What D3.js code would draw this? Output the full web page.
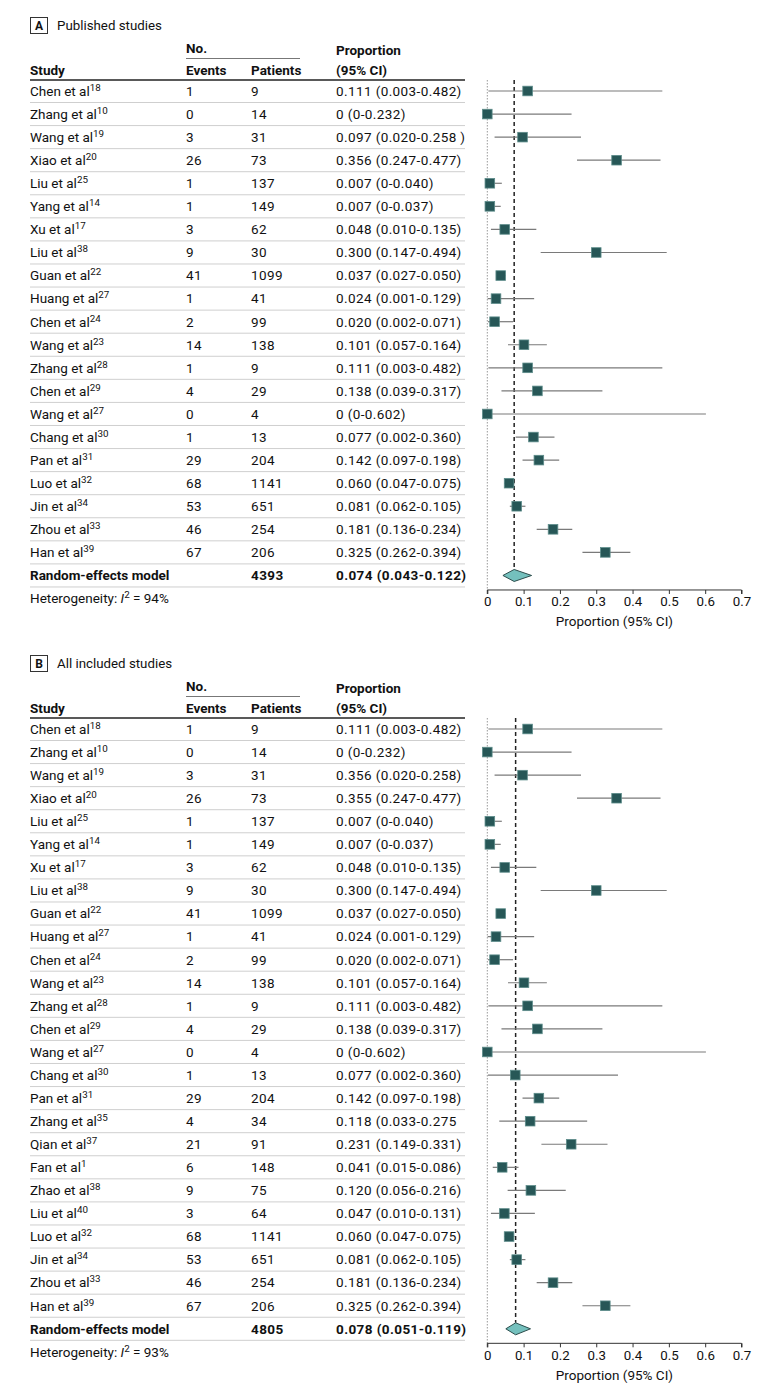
<!DOCTYPE html>
<html><head><meta charset="utf-8">
<script src="https://cdn.jsdelivr.net/npm/d3@7"></script>
<style>
body{margin:0;background:#fff;}
svg{display:block;font-family:Roboto,"Noto Sans",sans-serif;}
</style></head>
<body><svg id="c" width="780" height="1394"></svg>
<script>
// ---------- Panel A data ----------
const studiesA = ["Chen et al","Zhang et al","Wang et al","Xiao et al","Liu et al","Yang et al","Xu et al","Liu et al","Guan et al","Huang et al","Chen et al","Wang et al","Zhang et al","Chen et al","Wang et al","Chang et al","Pan et al","Luo et al","Jin et al","Zhou et al","Han et al"];
const refsA = ["18","10","19","20","25","14","17","38","22","27","24","23","28","29","27","30","31","32","34","33","39"];
const eventsA = ["1","0","3","26","1","1","3","9","41","1","2","14","1","4","0","1","29","68","53","46","67"];
const patientsA = ["9","14","31","73","137","149","62","30","1099","41","99","138","9","29","4","13","204","1141","651","254","206"];
const propTextA = ["0.111 (0.003-0.482)","0 (0-0.232)","0.097 (0.020-0.258 )","0.356 (0.247-0.477)","0.007 (0-0.040)","0.007 (0-0.037)","0.048 (0.010-0.135)","0.300 (0.147-0.494)","0.037 (0.027-0.050)","0.024 (0.001-0.129)","0.020 (0.002-0.071)","0.101 (0.057-0.164)","0.111 (0.003-0.482)","0.138 (0.039-0.317)","0 (0-0.602)","0.077 (0.002-0.360)","0.142 (0.097-0.198)","0.060 (0.047-0.075)","0.081 (0.062-0.105)","0.181 (0.136-0.234)","0.325 (0.262-0.394)"];
const estA = [0.111,0,0.097,0.356,0.007,0.007,0.048,0.300,0.037,0.024,0.020,0.101,0.111,0.138,0,0.127,0.142,0.060,0.081,0.181,0.325];
const loA  = [0.003,0,0.020,0.247,0,0,0.010,0.147,0.027,0.001,0.002,0.057,0.003,0.039,0,0.078,0.097,0.047,0.062,0.136,0.262];
const hiA  = [0.482,0.232,0.258,0.477,0.040,0.037,0.135,0.494,0.050,0.129,0.071,0.164,0.482,0.317,0.602,0.185,0.198,0.075,0.105,0.234,0.394];
const pooledA = {patients:"4393", text:"0.074 (0.043-0.122)", est:0.074, lo:0.043, hi:0.122, i2:"94%"};

// ---------- Panel B data ----------
const studiesB = ["Chen et al","Zhang et al","Wang et al","Xiao et al","Liu et al","Yang et al","Xu et al","Liu et al","Guan et al","Huang et al","Chen et al","Wang et al","Zhang et al","Chen et al","Wang et al","Chang et al","Pan et al","Zhang et al","Qian et al","Fan et al","Zhao et al","Liu et al","Luo et al","Jin et al","Zhou et al","Han et al"];
const refsB = ["18","10","19","20","25","14","17","38","22","27","24","23","28","29","27","30","31","35","37","1","38","40","32","34","33","39"];
const eventsB = ["1","0","3","26","1","1","3","9","41","1","2","14","1","4","0","1","29","4","21","6","9","3","68","53","46","67"];
const patientsB = ["9","14","31","73","137","149","62","30","1099","41","99","138","9","29","4","13","204","34","91","148","75","64","1141","651","254","206"];
const propTextB = ["0.111 (0.003-0.482)","0 (0-0.232)","0.356 (0.020-0.258)","0.355 (0.247-0.477)","0.007 (0-0.040)","0.007 (0-0.037)","0.048 (0.010-0.135)","0.300 (0.147-0.494)","0.037 (0.027-0.050)","0.024 (0.001-0.129)","0.020 (0.002-0.071)","0.101 (0.057-0.164)","0.111 (0.003-0.482)","0.138 (0.039-0.317)","0 (0-0.602)","0.077 (0.002-0.360)","0.142 (0.097-0.198)","0.118 (0.033-0.275","0.231 (0.149-0.331)","0.041 (0.015-0.086)","0.120 (0.056-0.216)","0.047 (0.010-0.131)","0.060 (0.047-0.075)","0.081 (0.062-0.105)","0.181 (0.136-0.234)","0.325 (0.262-0.394)"];
const estB = [0.111,0,0.097,0.356,0.007,0.007,0.048,0.300,0.037,0.024,0.020,0.101,0.111,0.138,0,0.077,0.142,0.118,0.231,0.041,0.120,0.047,0.060,0.081,0.181,0.325];
const loB  = [0.003,0,0.020,0.247,0,0,0.010,0.147,0.027,0.001,0.002,0.057,0.003,0.039,0,0.002,0.097,0.033,0.149,0.015,0.056,0.010,0.047,0.062,0.136,0.262];
const hiB  = [0.482,0.232,0.258,0.477,0.040,0.037,0.135,0.494,0.050,0.129,0.071,0.164,0.482,0.317,0.602,0.360,0.198,0.275,0.331,0.086,0.216,0.131,0.075,0.105,0.234,0.394];
const pooledB = {patients:"4805", text:"0.078 (0.051-0.119)", est:0.078, lo:0.051, hi:0.119, i2:"93%"};

const xTicks = [0,0.1,0.2,0.3,0.4,0.5,0.6,0.7];

const svg = d3.select("#c");
const x = d3.scaleLinear().domain([0,0.7]).range([487.3,741.5]);
const FS = 13.5;
const NUMLS = 0.4;
const colStudy = 30, colEvents = 186, colPatients = 251, colProp = 336, tableRight = 465;
const ROW = 23.07;

function drawPanel(oy, letter, title, studies, refs, events, patients, props, est, lo, hi, pooled){
  const g = svg.append("g").attr("transform", `translate(0,${oy})`);
  const n = studies.length;
  const y = d3.scaleLinear().domain([0, n]).range([91, 91 + n*ROW]);

  // Title box
  g.append("rect").attr("x",30.5).attr("y",17.5).attr("width",17).attr("height",16)
    .attr("fill","none").attr("stroke","#333").attr("stroke-width",1);
  g.append("text").attr("x",39).attr("y",30).attr("text-anchor","middle")
    .attr("font-size",12).attr("font-weight","bold").attr("fill","#111").text(letter);
  g.append("text").attr("x",57).attr("y",30).attr("font-size",13.3).attr("fill","#111").text(title);

  // Header
  const hdr = g.append("g").attr("font-size",FS).attr("font-weight","bold").attr("fill","#111");
  hdr.append("text").attr("x",colEvents).attr("y",52.5).text("No.");
  g.append("line").attr("x1",colEvents).attr("x2",300).attr("y1",58.5).attr("y2",58.5)
    .attr("stroke","#777").attr("stroke-width",1);
  hdr.append("text").attr("x",colStudy).attr("y",74.5).text("Study");
  hdr.append("text").attr("x",colEvents).attr("y",74.5).text("Events");
  hdr.append("text").attr("x",colPatients).attr("y",74.5).text("Patients");
  hdr.append("text").attr("x",colProp).attr("y",54.5).text("Proportion");
  hdr.append("text").attr("x",colProp).attr("y",74.5).text("(95% CI)");
  g.append("line").attr("x1",colStudy).attr("x2",tableRight).attr("y1",80).attr("y2",80)
    .attr("stroke","#222").attr("stroke-width",1.6);

  // Row separators
  g.selectAll("line.sep").data(d3.range(n+1)).join("line").attr("class","sep")
    .attr("x1",colStudy).attr("x2",tableRight)
    .attr("y1",i=>y(i)+11.5).attr("y2",i=>y(i)+11.5)
    .attr("stroke","#cfcfcf").attr("stroke-width",1);

  // Rows text
  const rows = g.selectAll("g.row").data(d3.range(n)).join("g").attr("class","row")
    .attr("font-size",FS).attr("fill","#111");
  const st = rows.append("text").attr("x",colStudy).attr("y",i=>y(i)+4.8);
  st.append("tspan").text(i=>studies[i]);
  st.append("tspan").attr("font-size",9.8).attr("dy",-5).text(i=>refs[i]);
  rows.append("text").attr("x",colEvents).attr("y",i=>y(i)+4.8).attr("letter-spacing",NUMLS).text(i=>events[i]);
  rows.append("text").attr("x",colPatients).attr("y",i=>y(i)+4.8).attr("letter-spacing",NUMLS).text(i=>patients[i]);
  rows.append("text").attr("x",colProp).attr("y",i=>y(i)+4.8).attr("letter-spacing",NUMLS).text(i=>props[i]);

  // Pooled row
  const py = y(n);
  const pr = g.append("g").attr("font-size",FS).attr("font-weight","bold").attr("fill","#111");
  pr.append("text").attr("x",colStudy).attr("y",py+4.8).text("Random-effects model");
  pr.append("text").attr("x",colPatients).attr("y",py+4.8).attr("letter-spacing",NUMLS).text(pooled.patients);
  pr.append("text").attr("x",colProp).attr("y",py+4.8).attr("letter-spacing",NUMLS).text(pooled.text);

  // Heterogeneity
  const ht = g.append("text").attr("x",colStudy).attr("y",y(n+1)+4.8).attr("font-size",FS).attr("fill","#111");
  ht.append("tspan").text("Heterogeneity: ");
  ht.append("tspan").attr("font-style","italic").text("I");
  ht.append("tspan").attr("font-size",9.8).attr("dy",-5).text("2");
  ht.append("tspan").attr("dy",5).text(" = " + pooled.i2);

  // Plot
  const axisY = py + 14.5;
  g.append("line").attr("x1",x(0)).attr("x2",x(0)).attr("y1",80).attr("y2",axisY)
    .attr("stroke","#999").attr("stroke-width",1).attr("stroke-dasharray","1.5,1.5");
  g.append("line").attr("x1",x(pooled.est)).attr("x2",x(pooled.est)).attr("y1",80).attr("y2",py-6)
    .attr("stroke","#222").attr("stroke-width",1.5).attr("stroke-dasharray","4,3");

  // CI lines
  g.selectAll("line.ci").data(d3.range(n)).join("line").attr("class","ci")
    .attr("x1",i=>x(lo[i])).attr("x2",i=>x(hi[i]))
    .attr("y1",i=>y(i)).attr("y2",i=>y(i))
    .attr("stroke","#7a7a7a").attr("stroke-width",1.2);
  // Squares
  const s = 9.6;
  g.selectAll("rect.pt").data(d3.range(n)).join("rect").attr("class","pt")
    .attr("x",i=>x(est[i])-s/2).attr("y",i=>y(i)-s/2).attr("width",s).attr("height",s)
    .attr("fill","#275757").attr("stroke","#5d8c8a").attr("stroke-width",0.8);

  // Diamond
  g.append("path")
    .attr("d",`M${x(pooled.lo)},${py}L${x(pooled.est)},${py-6}L${x(pooled.hi)},${py}L${x(pooled.est)},${py+6}Z`)
    .attr("fill","#74c0bd").attr("stroke","#2c4d4c").attr("stroke-width",1);

  // Axis
  const ax = g.append("g").attr("transform",`translate(0,${axisY})`)
    .call(d3.axisBottom(x).tickValues(xTicks).tickSize(4).tickPadding(3)
      .tickFormat(d=> d===0 ? "0" : d3.format(".1f")(d)));
  ax.select(".domain").attr("stroke","#333").attr("d",`M${x(0)},4V0H${x(0.7)}V4`);
  ax.selectAll(".tick line").attr("stroke","#333");
  ax.selectAll(".tick text").attr("font-size",13.3).attr("fill","#111").attr("font-family","Roboto,'Noto Sans',sans-serif");
  g.append("text").attr("x",(x(0)+x(0.7))/2).attr("y",axisY+36.5).attr("text-anchor","middle")
    .attr("font-size",FS).attr("fill","#111").text("Proportion (95% CI)");
}

drawPanel(0, "A", "Published studies", studiesA, refsA, eventsA, patientsA, propTextA, estA, loA, hiA, pooledA);
drawPanel(638, "B", "All included studies", studiesB, refsB, eventsB, patientsB, propTextB, estB, loB, hiB, pooledB);
</script>
</body></html>
